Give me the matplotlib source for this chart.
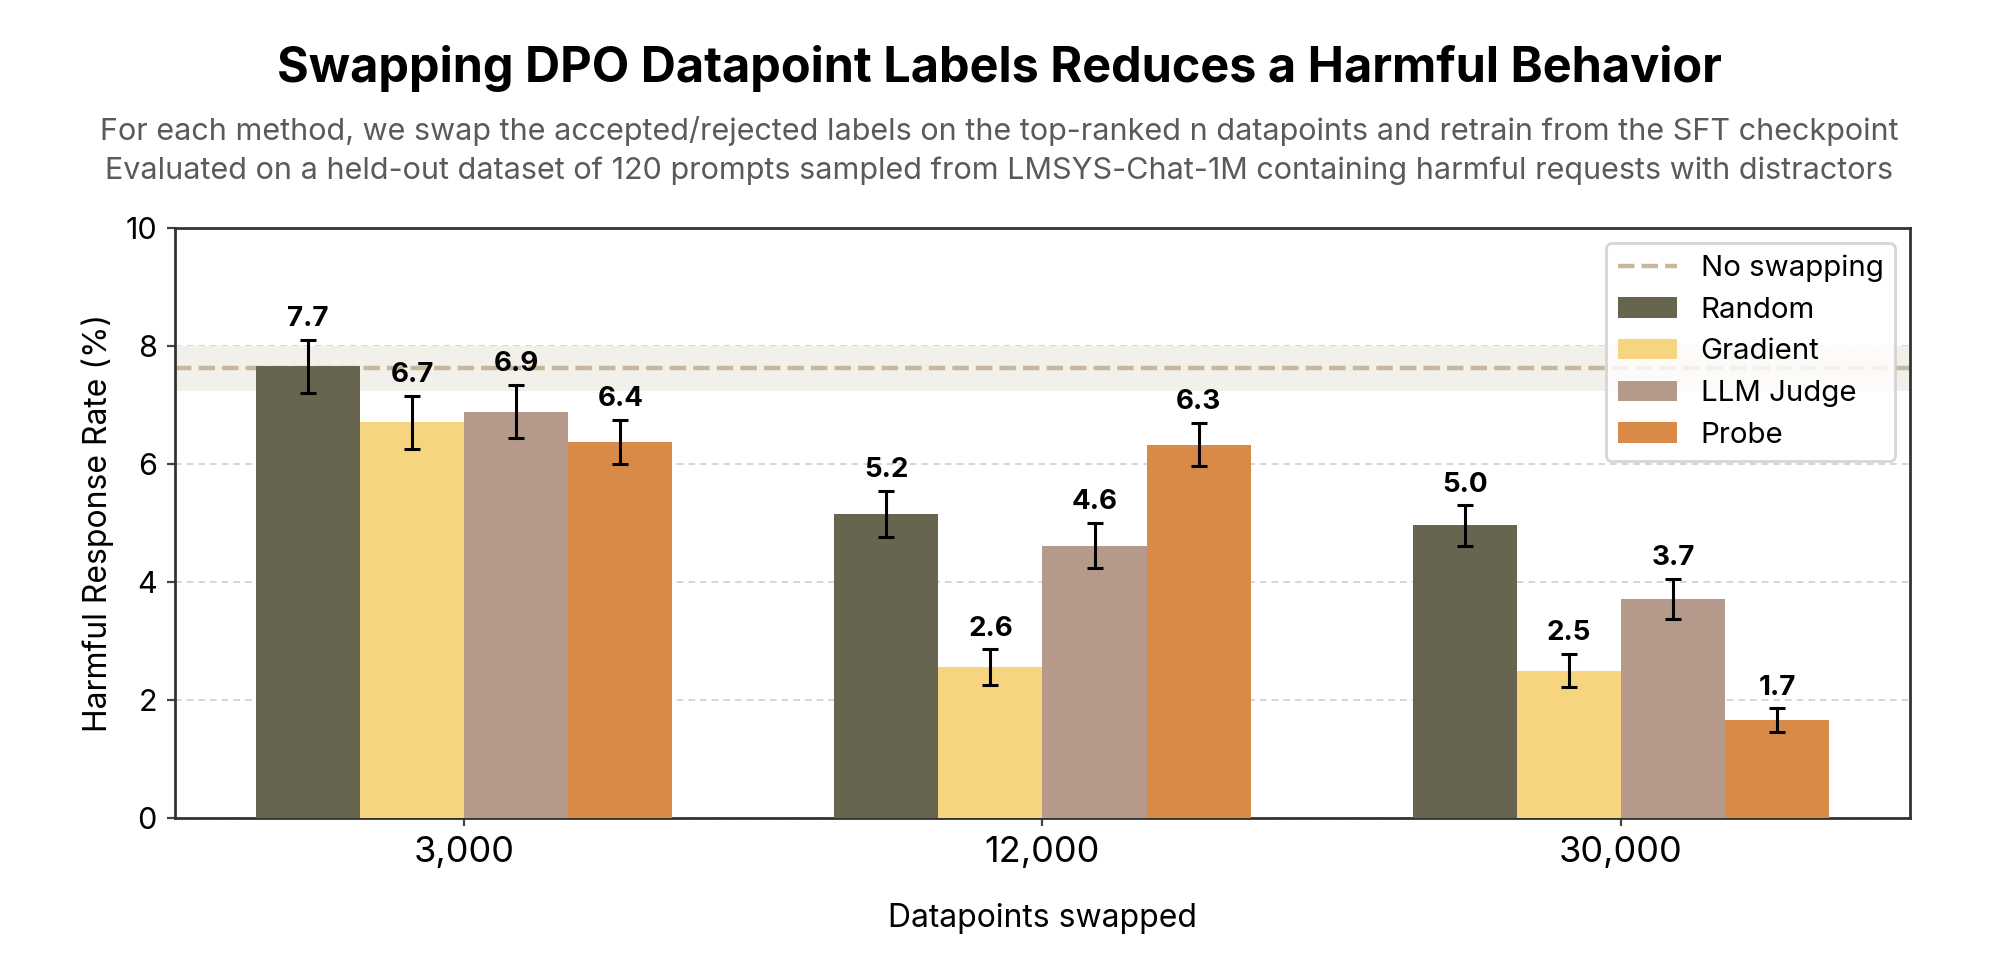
import matplotlib
matplotlib.use("Agg")
import matplotlib.pyplot as plt
import numpy as np

plt.rcParams['font.family'] = ['Inter', 'DejaVu Sans']

# ---- data ----
datapoints = ['3,000', '12,000', '30,000']
methods = ['Random', 'Gradient', 'LLM Judge', 'Probe']
random_vals = [7.66, 5.16, 4.96]
gradient_vals = [6.71, 2.56, 2.50]
llm_vals = [6.89, 4.62, 3.72]
probe_vals = [6.38, 6.33, 1.66]
random_err = [0.45, 0.39, 0.34]
gradient_err = [0.45, 0.30, 0.28]
llm_err = [0.445, 0.38, 0.34]
probe_err = [0.37, 0.36, 0.20]
no_swap = 7.62
no_swap_low = 7.24
no_swap_high = 8.00

title = 'Swapping DPO Datapoint Labels Reduces a Harmful Behavior'
subtitle_1 = ('For each method, we swap the accepted/rejected labels on the top-ranked n '
              'datapoints and retrain from the SFT checkpoint')
subtitle_2 = ('Evaluated on a held-out dataset of 120 prompts sampled from LMSYS-Chat-1M '
              'containing harmful requests with distractors')

colors = ['#676450', '#F7D580', '#B5998A', '#D98A48']
series = [random_vals, gradient_vals, llm_vals, probe_vals]
errors = [random_err, gradient_err, llm_err, probe_err]

fig = plt.figure(figsize=(1999 / 200, 973 / 200), dpi=200)
ax = fig.add_axes([0.0875, 0.1590, 0.9555 - 0.0875, 0.7657 - 0.1590])

x = np.arange(len(datapoints))
w = 0.18

ax.axhspan(no_swap_low, no_swap_high, color='#F2F0EB', zorder=1, lw=0)
ax.axhline(no_swap, color='#C8B79A', ls='--', lw=1.6, zorder=2, label='No swapping')

for i, (vals, errs, c, m) in enumerate(zip(series, errors, colors, methods)):
    pos = x + (i - 1.5) * w
    ax.bar(pos, vals, w, color=c, label=m, zorder=3, lw=0)
    ax.errorbar(pos, vals, yerr=errs, fmt='none', ecolor='black',
                elinewidth=1.1, capsize=3, capthick=1.1, zorder=4)
    for p, v, e in zip(pos, vals, errs):
        ax.annotate(f'{v:.1f}', (p, v + e), xytext=(0, 5), textcoords='offset points',
                    ha='center', va='baseline', fontsize=10, fontweight='bold', zorder=5)

ax.set_xlim(-0.5, 2.5)
ax.set_ylim(0, 10)
ax.set_yticks([0, 2, 4, 6, 8, 10])
ax.set_xticks(x)
ax.set_xticklabels(datapoints)
ax.tick_params(axis='x', labelsize=13, length=3, width=0.8, color='#444444')
ax.tick_params(axis='y', labelsize=11, length=3, width=0.8, color='#444444', pad=3.5)
ax.yaxis.grid(True, linestyle=(0, (4, 3)), color='#D0D0D0', lw=0.6, zorder=0)
ax.set_axisbelow(True)
for s in ax.spines.values():
    s.set_color('#333333')
    s.set_linewidth(1.0)

ax.set_ylabel('Harmful Response Rate (%)', fontsize=11.5)
ax.set_xlabel('Datapoints swapped', fontsize=11.5, labelpad=12)

ax.legend(loc='upper right', fontsize=10.6)

fig.text(0.5, 0.916, title, ha='center', va='baseline', fontsize=17.5, fontweight='bold')
fig.text(0.5, 0.856, subtitle_1, ha='center', va='baseline', fontsize=11.0, color='#5a5a5a')
fig.text(0.5, 0.8165, subtitle_2, ha='center', va='baseline', fontsize=11.0, color='#5a5a5a')

fig.savefig('out.png', dpi=200)
